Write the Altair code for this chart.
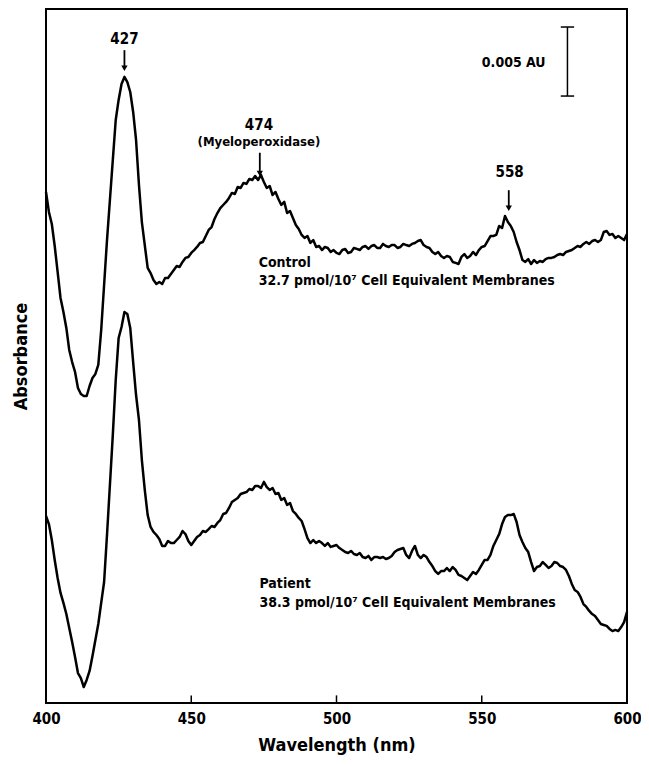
import altair as alt
import pandas as pd

FONT = "'Liberation Sans Narrow', 'DejaVu Sans Condensed', 'Roboto', sans-serif"

# wavelength grid (nm), one reading per nm
wavelength = list(range(400, 601))

# absorbance, mAU (relative; 0.005 AU bar = 5 mAU)
control = [
    36.87, 35.43, 34.56, 32.97, 31.10, 29.22, 28.21, 27.06, 25.47, 24.60,
    23.88, 22.73, 22.29, 22.15, 22.15, 22.87, 23.45, 23.74, 24.39, 26.91,
    30.16, 33.40, 36.29, 39.18, 42.06, 43.51, 44.66, 45.17, 44.80, 44.08,
    42.64, 40.62, 37.37, 34.70, 33.04, 31.39, 31.02, 30.52, 30.23, 30.37,
    30.23, 30.66, 30.66, 30.95, 31.24, 31.53, 31.46, 31.82, 32.11, 32.18,
    32.47, 32.68, 32.90, 33.19, 33.26, 33.69, 34.13, 34.34, 34.92, 35.35,
    35.71, 35.93, 36.15, 36.44, 36.80, 36.72, 37.23, 37.16, 37.52, 37.45,
    37.81, 37.73, 38.02, 37.73, 38.10, 37.59, 37.16, 37.30, 36.65, 36.87,
    36.36, 35.93, 36.15, 35.35, 35.50, 34.99, 34.49, 34.20, 33.77, 33.55,
    33.69, 33.19, 33.40, 32.90, 32.97, 32.68, 32.90, 32.83, 32.54, 32.68,
    32.47, 32.39, 32.68, 32.76, 32.47, 32.54, 32.83, 32.76, 32.68, 32.90,
    32.97, 32.76, 32.97, 33.04, 32.83, 32.83, 33.12, 32.97, 32.90, 33.04,
    33.04, 32.83, 32.90, 33.12, 33.04, 32.97, 33.12, 33.19, 33.33, 33.40,
    33.04, 32.90, 32.83, 32.54, 32.39, 32.54, 32.25, 32.11, 32.25, 32.18,
    31.82, 31.75, 31.67, 32.18, 32.39, 32.11, 32.25, 32.54, 32.32, 32.68,
    32.90, 32.97, 33.33, 33.69, 33.69, 33.77, 34.42, 34.27, 35.14, 34.70,
    34.42, 33.98, 33.26, 32.68, 31.96, 31.82, 32.03, 31.67, 31.96, 31.75,
    31.89, 31.82, 32.03, 32.11, 32.11, 32.18, 32.32, 32.39, 32.32, 32.54,
    32.61, 32.68, 32.83, 32.97, 32.90, 33.12, 33.26, 33.12, 33.33, 33.40,
    33.26, 33.40, 33.98, 34.05, 33.77, 33.84, 33.55, 33.69, 33.55, 33.40,
    33.84,
]

patient = [
    13.49, 12.91, 11.76, 10.32, 9.02, 7.94, 7.22, 6.42, 5.41, 4.40,
    3.32, 2.16, 1.80, 1.15, 1.66, 2.31, 3.39, 4.55, 5.70, 7.22,
    8.73, 12.12, 15.73, 19.34, 23.30, 26.33, 27.13, 28.21, 28.07, 27.06,
    24.60, 22.22, 20.42, 17.53, 15.37, 13.56, 12.70, 12.34, 12.12, 11.83,
    11.33, 11.33, 11.69, 11.54, 11.54, 11.76, 11.98, 12.41, 12.19, 11.69,
    11.40, 11.69, 11.98, 12.12, 12.41, 12.34, 12.55, 12.77, 12.70, 12.99,
    13.20, 13.64, 13.71, 14.07, 14.50, 14.65, 14.79, 15.08, 15.15, 15.22,
    15.44, 15.37, 15.66, 15.66, 15.51, 15.95, 15.58, 15.37, 15.51, 15.08,
    15.15, 14.65, 14.79, 14.29, 14.43, 13.85, 13.64, 13.35, 13.13, 12.55,
    11.90, 11.54, 11.76, 11.54, 11.69, 11.54, 11.33, 11.54, 11.26, 11.33,
    11.40, 11.18, 11.04, 10.89, 10.82, 10.97, 10.75, 10.68, 10.82, 10.53,
    10.46, 10.61, 10.32, 10.53, 10.53, 10.46, 10.53, 10.39, 10.46, 10.61,
    10.89, 11.04, 11.11, 11.18, 10.68, 10.46, 10.97, 11.33, 10.68, 10.46,
    10.68, 10.53, 10.17, 9.88, 9.52, 9.31, 9.52, 9.52, 9.74, 9.52,
    9.81, 9.60, 9.24, 9.16, 9.02, 8.87, 9.16, 9.45, 9.31, 9.60,
    9.96, 10.32, 10.32, 10.68, 11.33, 11.76, 12.19, 12.91, 13.42, 13.56,
    13.56, 13.64, 13.06, 12.12, 11.62, 11.18, 10.89, 10.17, 9.52, 9.81,
    9.88, 10.17, 9.96, 9.74, 9.88, 10.17, 10.10, 9.88, 9.81, 9.60,
    9.16, 8.59, 8.15, 8.01, 7.65, 7.14, 6.93, 6.64, 6.42, 6.28,
    5.99, 5.70, 5.63, 5.56, 5.34, 5.19, 5.27, 5.19, 5.48, 5.84,
    6.57,
]

# peak annotations
peak_labels = ["427", "474", "558"]
peak_label_wl = [427.0, 473.3, 559.6]
peak_label_A = [47.9, 41.7, 38.3]
arrow_wl = [427.0, 473.6, 559.3]
arrow_top = [47.1, 39.7, 37.0]
arrow_tip = [45.5, 37.9, 35.4]

sub_label = ["(Myeloperoxidase)"]
sub_label_wl = [473.3]
sub_label_A = [40.5]

# sample captions
caption_text = ["Control", "32.7 pmol/10\u2077 Cell Equivalent Membranes",
                "Patient", "38.3 pmol/10\u2077 Cell Equivalent Membranes"]
caption_wl = [473.2, 473.2, 473.5, 473.5]
caption_A = [31.75, 30.45, 8.6, 7.25]

# scale bar 0.005 AU
bar_wl = 579.5
bar_lo, bar_hi = 43.79, 48.77
bar_cap = [577.2, 581.8]
bar_text = "0.005 AU"
bar_text_wl = 561.0
bar_text_A = 46.2

tick_values = [400, 450, 500, 550, 600]
inner_ticks = [450, 500, 550]

assert len(control) == len(wavelength) == len(patient)

df = pd.DataFrame({
    "wl": wavelength * 2,
    "A": control + patient,
    "series": ["Control"] * len(wavelength) + ["Patient"] * len(wavelength),
})

xs = alt.Scale(domain=[400, 600], nice=False, zero=False)
ys = alt.Scale(domain=[0, 50.07], nice=False, zero=False)

xaxis = alt.Axis(values=tick_values, ticks=False, domain=False, grid=False,
                 labelFlush=False, labelFontSize=15, labelFontWeight="bold",
                 labelPadding=8, title="Wavelength (nm)", titleFontSize=18,
                 titleFontWeight="bold", titlePadding=10, labelColor="black",
                 titleColor="black", format="d")
yaxis = alt.Axis(labels=False, ticks=False, domain=False, grid=False,
                 title="Absorbance", titleFontSize=18, titleFontWeight="bold",
                 titlePadding=16, titleColor="black")

lines = alt.Chart(df).mark_line(color="black", strokeWidth=2.5, strokeJoin="round").encode(
    x=alt.X("wl:Q", scale=xs, axis=xaxis),
    y=alt.Y("A:Q", scale=ys, axis=yaxis),
    detail="series:N",
)

ticks_df = pd.DataFrame({"wl": inner_ticks, "y0": [0.0] * 3, "y1": [0.55] * 3})
tick_rules = alt.Chart(ticks_df).mark_rule(color="black", strokeWidth=1.5).encode(
    x=alt.X("wl:Q", scale=xs), y=alt.Y("y0:Q", scale=ys), y2="y1:Q")

peaks_df = pd.DataFrame({"t": peak_labels, "wl": peak_label_wl, "A": peak_label_A})
peak_text = alt.Chart(peaks_df).mark_text(fontSize=15, fontWeight="bold", align="center",
                                          baseline="middle", color="black").encode(
    x=alt.X("wl:Q", scale=xs), y=alt.Y("A:Q", scale=ys), text="t:N")

sub_df = pd.DataFrame({"t": sub_label, "wl": sub_label_wl, "A": sub_label_A})
sub_text = alt.Chart(sub_df).mark_text(fontSize=13, fontWeight="bold", align="center",
                                       baseline="middle", color="black").encode(
    x=alt.X("wl:Q", scale=xs), y=alt.Y("A:Q", scale=ys), text="t:N")

arrows_df = pd.DataFrame({"wl": arrow_wl, "top": arrow_top, "tip": arrow_tip,
                          "head": [t + 0.3 for t in arrow_tip]})
arrow_shaft = alt.Chart(arrows_df).mark_rule(color="black", strokeWidth=1.8).encode(
    x=alt.X("wl:Q", scale=xs), y=alt.Y("top:Q", scale=ys), y2="head:Q")
arrow_head = alt.Chart(arrows_df).mark_point(shape="triangle-down", filled=True, size=40,
                                             color="black", opacity=1).encode(
    x=alt.X("wl:Q", scale=xs), y=alt.Y("head:Q", scale=ys))

cap_df = pd.DataFrame({"t": caption_text, "wl": caption_wl, "A": caption_A})
cap_text = alt.Chart(cap_df).mark_text(fontSize=14, fontWeight="bold", align="left",
                                       baseline="middle", color="black").encode(
    x=alt.X("wl:Q", scale=xs), y=alt.Y("A:Q", scale=ys), text="t:N")

bar_df = pd.DataFrame({"wl": [bar_wl], "lo": [bar_lo], "hi": [bar_hi]})
bar_rule = alt.Chart(bar_df).mark_rule(color="black", strokeWidth=1.5).encode(
    x=alt.X("wl:Q", scale=xs), y=alt.Y("lo:Q", scale=ys), y2="hi:Q")
caps_df = pd.DataFrame({"x0": [bar_cap[0]] * 2, "x1": [bar_cap[1]] * 2, "A": [bar_lo, bar_hi]})
bar_caps = alt.Chart(caps_df).mark_rule(color="black", strokeWidth=1.5).encode(
    x=alt.X("x0:Q", scale=xs), x2="x1:Q", y=alt.Y("A:Q", scale=ys))
bar_lab_df = pd.DataFrame({"t": [bar_text], "wl": [bar_text_wl], "A": [bar_text_A]})
bar_lab = alt.Chart(bar_lab_df).mark_text(fontSize=14, fontWeight="bold", align="center",
                                          baseline="middle", color="black").encode(
    x=alt.X("wl:Q", scale=xs), y=alt.Y("A:Q", scale=ys), text="t:N")

chart = alt.layer(
    lines, tick_rules, peak_text, sub_text, arrow_shaft, arrow_head,
    cap_text, bar_rule, bar_caps, bar_lab,
).properties(
    width=581, height=694,
    autosize=alt.AutoSizeParams(type="none"),
    padding={"left": 38, "top": 1, "right": 14, "bottom": 55},
).configure(
    font=FONT,
).configure_view(
    stroke="black", strokeWidth=2,
).configure_axis(
    grid=False, labelFont=FONT, titleFont=FONT,
).configure_text(font=FONT)

chart.save("out.html", embed_options={"renderer": "svg", "actions": False})
